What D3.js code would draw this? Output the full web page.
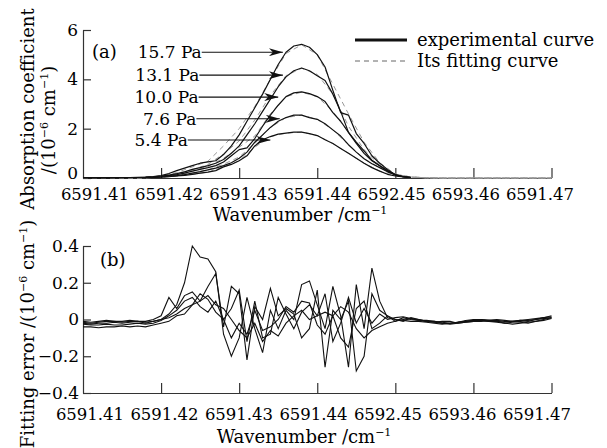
<!DOCTYPE html>
<html>
<head>
<meta charset="utf-8">
<script src="https://cdn.jsdelivr.net/npm/d3@7"></script>
<style>
  body { margin: 0; background: #fff; }
  svg { display: block; font-family: "DejaVu Serif", serif; }
</style>
</head>
<body>
<div id="chart"></div>
<script>
// sampling grid of the spectra: 6591.41 cm-1 + i * 0.001
const gridStart = 6591.41, gridStep = 0.001;

const xTicks = [6591.41, 6591.42, 6591.43, 6591.44, 6591.45, 6591.46, 6591.47];
const xTickLabels = ["6591.41", "6591.42", "6591.43", "6591.44", "6592.45", "6593.46", "6591.47"];
const absTicks = [0, 2, 4, 6];
const errTicks = [-0.4, -0.2, 0, 0.2, 0.4];
const errTickLabels = ["\u22120.4", "\u22120.2", "0", "0.2", "0.4"];

const pressures = ["15.7 Pa", "13.1 Pa", "10.0 Pa", "7.6 Pa", "5.4 Pa"];

// experimental absorption (1e-6 cm-1), i = 0..42
const abs157 = [0.02,0.02,0.02,0.02,0.02,0.02,0.02,0.03,0.04,0.06, 0.1,0.18,0.3,0.4,0.5,0.6,0.65,0.7,0.95,1.3,
  1.75,2.3,2.85,3.4,4.0,4.6,5.1,5.35,5.42,5.3, 5.0,4.5,3.55,2.65,2.55,1.8,1.4,0.9,0.6,0.35, 0.12,0.05,0.02];
const abs131 = [0.01,0.01,0.01,0.01,0.02,0.02,0.02,0.02,0.03,0.05, 0.08,0.12,0.18,0.25,0.35,0.42,0.5,0.6,0.75,1.0,
  1.3,1.75,2.2,2.7,3.2,3.7,4.1,4.35,4.46,4.35, 4.15,3.95,3.4,2.7,1.85,1.45,1.1,0.72,0.5,0.3, 0.14,0.06,0.02];
const abs100 = [0.01,0.01,0.01,0.01,0.01,0.02,0.02,0.02,0.03,0.04, 0.06,0.1,0.14,0.2,0.28,0.35,0.42,0.5,0.65,0.9,
  1.15,1.22,1.6,2.1,2.55,2.95,3.3,3.45,3.49,3.42, 3.3,3.1,2.65,2.3,1.85,1.4,1.0,0.7,0.5,0.28, 0.13,0.05,0.02];
const abs76 = [0.01,0.01,0.01,0.01,0.01,0.01,0.02,0.02,0.02,0.03, 0.04,0.07,0.1,0.14,0.2,0.26,0.33,0.4,0.5,0.62,
  0.8,1.05,1.45,1.75,2.05,2.3,2.45,2.55,2.55,2.45, 2.38,2.2,1.95,1.7,1.35,1.05,0.78,0.58,0.42,0.25, 0.12,0.05,0.02];
const abs54 = [0.01,0.01,0.01,0.01,0.01,0.01,0.01,0.02,0.02,0.02, 0.03,0.05,0.08,0.11,0.15,0.2,0.24,0.3,0.45,0.55,
  0.7,0.9,1.3,1.55,1.68,1.78,1.82,1.86,1.86,1.8, 1.72,1.55,1.4,1.2,1.0,0.8,0.6,0.42,0.28,0.15, 0.08,0.04,0.02];

// fitted curves, every 0.002 cm-1 (j = 0..30)
const fit157 = [0,0,0,0,0.03,0.08,0.22,0.45,0.68,1.3,2.0,2.9,4.0,5.05,5.4,5.0,3.8,2.6,1.45,0.62,0.16,0.04,0.01,0,0,0,0,0,0,0,0];
const fit131 = [0,0,0,0,0.02,0.07,0.17,0.33,0.55,0.98,1.5,2.35,3.35,4.15,4.45,4.2,3.4,2.1,1.15,0.52,0.15,0.04,0.01,0,0,0,0,0,0,0,0];
const fit100 = [0,0,0,0,0.02,0.05,0.13,0.27,0.47,0.8,1.25,1.7,2.6,3.3,3.48,3.3,2.7,1.85,1.0,0.5,0.15,0.04,0.01,0,0,0,0,0,0,0,0];
const fit76 = [0,0,0,0,0.01,0.04,0.1,0.2,0.33,0.56,0.85,1.4,2.05,2.45,2.55,2.38,1.95,1.35,0.78,0.42,0.13,0.04,0.01,0,0,0,0,0,0,0,0];
const fit54 = [0,0,0,0,0.01,0.03,0.08,0.15,0.24,0.45,0.7,1.25,1.68,1.82,1.86,1.72,1.4,1.0,0.6,0.28,0.09,0.03,0.01,0,0,0,0,0,0,0,0];

// fitting error (1e-6 cm-1), i = 0..60
const errA = [-0.02,-0.025,-0.02,-0.02,-0.015,-0.02,-0.015,-0.01,-0.02,
  -0.01,0.0,0.03,0.08,0.2,0.4,0.34,0.33,0.26,-0.08,-0.2,-0.1,0.12,-0.05,-0.18,0.05,-0.05,0.05,0.0,0.19,0.21,0.08,-0.05,0.18,0.02,-0.26,0.19,-0.05,0.28,0.1,0.01,0.0,
  -0.01,0.01,0.0,-0.01,-0.015,-0.02,-0.02,-0.015,-0.01,-0.005,0.0,-0.005,-0.005,-0.01,-0.01,-0.015,-0.02,-0.01,0.0,0.01];
const errB = [-0.01,-0.015,-0.01,-0.005,-0.01,-0.01,-0.005,-0.01,-0.01,
  0.0,0.02,0.12,0.06,0.13,0.15,0.1,0.18,0.25,-0.04,0.18,0.14,-0.22,0.07,0.0,0.17,0.02,0.06,0.03,-0.1,-0.05,0.16,-0.26,0.05,0.0,0.1,-0.28,-0.2,0.14,0.05,0.02,-0.01,
  0.01,0.0,-0.005,-0.01,-0.01,-0.015,-0.02,-0.015,-0.005,0.0,0.0,-0.005,-0.01,-0.015,-0.01,-0.005,-0.01,0.0,0.005,0.01];
const errC = [-0.04,-0.04,-0.045,-0.04,-0.04,-0.035,-0.04,-0.035,-0.04,
  -0.03,-0.02,-0.01,0.02,0.03,0.08,0.14,0.11,0.04,0.0,0.06,0.16,-0.12,0.1,-0.1,-0.08,0.12,0.03,-0.05,0.04,0.08,0.02,0.14,-0.12,-0.02,0.12,-0.02,0.06,-0.02,0.03,0.0,0.01,
  0.015,0.005,-0.005,-0.005,-0.01,-0.02,-0.025,-0.02,-0.015,-0.01,-0.005,-0.01,-0.015,-0.02,-0.015,-0.01,-0.005,0.0,0.01,0.015];
const errD = [-0.025,-0.03,-0.03,-0.025,-0.03,-0.03,-0.025,-0.02,-0.025,
  -0.02,-0.005,0.02,0.05,0.1,0.12,0.07,0.04,0.1,0.0,-0.1,-0.02,-0.08,0.05,-0.06,-0.04,0.0,0.07,0.04,0.1,0.09,-0.03,-0.08,0.02,-0.1,-0.15,0.06,0.1,-0.05,-0.02,0.02,0.0,
  -0.005,-0.01,-0.01,-0.015,-0.02,-0.025,-0.02,-0.015,-0.01,-0.005,-0.005,-0.01,-0.01,-0.02,-0.025,-0.02,-0.015,-0.01,-0.005,0.005];
const errE = [-0.015,-0.02,-0.015,-0.01,-0.01,-0.015,-0.01,-0.01,-0.015,
  -0.01,0.0,0.01,0.03,0.06,0.08,0.1,0.13,0.08,0.06,0.0,-0.06,-0.1,-0.02,-0.12,-0.06,-0.09,-0.02,0.02,0.05,0.0,0.02,0.04,0.02,0.07,0.04,-0.05,-0.1,-0.06,-0.04,-0.02,-0.01,
  0.0,0.005,0.0,-0.01,-0.015,-0.01,-0.01,-0.02,-0.015,-0.01,-0.01,-0.005,0.0,-0.005,-0.01,-0.005,0.0,0.005,0.01,0.02];

// arrow annotations: label, text start, arrow tip (data units)
const arrowNotes = [
  { label: pressures[0], textX: 6591.4170, tipX: 6591.4356, tipY: 5.1 },
  { label: pressures[1], textX: 6591.4167, tipX: 6591.4356, tipY: 4.17 },
  { label: pressures[2], textX: 6591.4166, tipX: 6591.4350, tipY: 3.28 },
  { label: pressures[3], textX: 6591.4177, tipX: 6591.4352, tipY: 2.4 },
  { label: pressures[4], textX: 6591.4166, tipX: 6591.4340, tipY: 1.54 }
];

const fig = {
  width: 607, height: 448,
  left: 83, right: 551.5,
  a: { top: 30, bottom: 178, labelSpan: [95, 540], labelBase: 200 },
  b: { top: 246, bottom: 393, labelSpan: [90, 537], labelBase: 420 },
  ink: "#111",
  axisInk: "#333",

setup() {
  this.svg = d3.select("#chart").append("svg")
    .attr("width", this.width).attr("height", this.height);

  this.x = d3.scaleLinear().domain([6591.41, 6591.47]).range([this.left, this.right]);
  this.yA = d3.scaleLinear().domain([0, 6]).range([this.a.bottom, this.a.top]);
  this.yB = d3.scaleLinear().domain([-0.4, 0.4]).range([this.b.bottom, this.b.top]);

  const defs = this.svg.append("defs");
  defs.append("marker").attr("id", "head")
    .attr("viewBox", "0 0 14 8").attr("refX", 14).attr("refY", 4)
    .attr("markerWidth", 14).attr("markerHeight", 8)
    .attr("markerUnits", "userSpaceOnUse").attr("orient", "auto")
    .append("path").attr("d", "M0,0 L14,4 L0,8 L4,4 Z").attr("fill", this.ink);
},

// superscript helper: parts = [[text, isSup], ...]
richText(sel, parts) {
  let up = false;
  parts.forEach(([t, sup]) => {
    const ts = sel.append("tspan").text(t);
    if (sup && !up) { ts.attr("dy", -7).attr("font-size", 11); up = true; }
    else if (sup) { ts.attr("font-size", 11); }
    else if (up) { ts.attr("dy", 7); up = false; }
  });
},

axes(g, y, ticks, labels, panel, yPad) {
  const xAxis = g.append("g").attr("transform", `translate(0,${panel.bottom})`)
    .call(d3.axisBottom(this.x).tickValues(xTicks).tickFormat("")
      .tickSizeInner(-10).tickSizeOuter(0));
  const yAxis = g.append("g").attr("transform", `translate(${this.left},0)`)
    .call(d3.axisLeft(y).tickValues(ticks).tickFormat((d, i) => labels ? labels[i] : d)
      .tickSizeInner(-8).tickSizeOuter(0).tickPadding(yPad));
  [xAxis, yAxis].forEach(ax => {
    ax.attr("font-family", null).attr("font-size", 17);
    ax.selectAll("path, line").attr("stroke", this.axisInk).attr("stroke-width", 1.2);
    ax.selectAll("text").attr("fill", "#000");
  });
  xAxis.selectAll(".tick").filter((d, i) => i === 0).select("line").remove();

  // the printed wavenumber labels sit evenly spread, slightly inside the tick span
  const lx = d3.scalePoint().domain(xTickLabels).range(panel.labelSpan);
  g.append("g").attr("font-size", 16.5).attr("text-anchor", "middle")
    .selectAll("text").data(xTickLabels).enter().append("text")
    .attr("x", d => lx(d)).attr("y", panel.labelBase).text(d => d);
  return yAxis;
},

drawTop() {
  const g = this.svg.append("g");
  const x = this.x, y = this.yA;
  const yAxis = this.axes(g, y, absTicks, null, this.a, 5);
  // lift the "0" so it clears the first wavenumber label
  yAxis.selectAll(".tick").filter(d => d === 0).select("text").attr("dy", "0.05em");

  const fits = [fit157, fit131, fit100, fit76, fit54];
  const exps = [abs157, abs131, abs100, abs76, abs54];

  const fitLine = d3.line().x((d, j) => x(gridStart + j * 2 * gridStep)).y(d => y(d));
  g.selectAll(".fit").data(fits).enter().append("path")
    .attr("class", "fit").attr("d", fitLine)
    .attr("fill", "none").attr("stroke", "#999").attr("stroke-width", 1)
    .attr("stroke-dasharray", "5,4");

  const expLine = d3.line().x((d, i) => x(gridStart + i * gridStep)).y(d => y(d));
  g.selectAll(".exp").data(exps).enter().append("path")
    .attr("class", "exp").attr("d", expLine)
    .attr("fill", "none").attr("stroke", this.ink).attr("stroke-width", 1.2)
    .attr("stroke-linejoin", "round");

  // pressure labels with arrows
  arrowNotes.forEach(n => {
    const t = g.append("text").attr("x", x(n.textX)).attr("y", y(n.tipY) + 6)
      .attr("font-size", 17).text(n.label);
    const w = t.node().getComputedTextLength();
    g.append("line")
      .attr("x1", x(n.textX) + w).attr("x2", x(n.tipX))
      .attr("y1", y(n.tipY)).attr("y2", y(n.tipY))
      .attr("stroke", this.ink).attr("stroke-width", 1.1)
      .attr("marker-end", "url(#head)");
  });

  g.append("text").attr("x", 92).attr("y", 58).attr("font-size", 18).text("(a)");

  // legend
  const lg = g.append("g").attr("font-size", 18);
  lg.append("line").attr("x1", 355).attr("x2", 407).attr("y1", 40).attr("y2", 40)
    .attr("stroke", this.ink).attr("stroke-width", 3);
  lg.append("text").attr("x", 417).attr("y", 46).text("experimental curve");
  lg.append("line").attr("x1", 355).attr("x2", 407).attr("y1", 61).attr("y2", 61)
    .attr("stroke", "#666").attr("stroke-width", 1).attr("stroke-dasharray", "5,4");
  lg.append("text").attr("x", 417).attr("y", 67).text("Its fitting curve");

  // titles
  g.append("text").attr("transform", "translate(34,109) rotate(-90)")
    .attr("text-anchor", "middle").attr("font-size", 18).text("Absorption coefficient");
  this.richText(g.append("text").attr("transform", "translate(55,120) rotate(-90)")
    .attr("text-anchor", "middle").attr("font-size", 18),
    [["/(10", false], ["\u22126", true], [" cm", false], ["\u22121", true], [")", false]]);
  this.richText(g.append("text").attr("x", 300).attr("y", 221)
    .attr("text-anchor", "middle").attr("font-size", 18),
    [["Wavenumber /cm", false], ["\u22121", true]]);
},

drawBottom() {
  const g = this.svg.append("g");
  const x = this.x, y = this.yB;
  this.axes(g, y, errTicks, errTickLabels, this.b, 4);

  const errLine = d3.line().x((d, i) => x(gridStart + i * gridStep)).y(d => y(d));
  g.selectAll(".err").data([errA, errB, errC, errD, errE]).enter().append("path")
    .attr("class", "err").attr("d", errLine)
    .attr("fill", "none").attr("stroke", this.ink).attr("stroke-width", 1.1);

  g.append("text").attr("x", 100).attr("y", 266).attr("font-size", 18).text("(b)");

  this.richText(g.append("text").attr("transform", "translate(34,334) rotate(-90)")
    .attr("text-anchor", "middle").attr("font-size", 18),
    [["Fitting error /(10", false], ["\u22126", true], [" cm", false], ["\u22121", true], [")", false]]);
  this.richText(g.append("text").attr("x", 304).attr("y", 443)
    .attr("text-anchor", "middle").attr("font-size", 18),
    [["Wavenumber /cm", false], ["\u22121", true]]);
},

init() {
  this.setup();
  this.drawTop();
  this.drawBottom();
}
};

fig.init();
</script>
</body>
</html>
